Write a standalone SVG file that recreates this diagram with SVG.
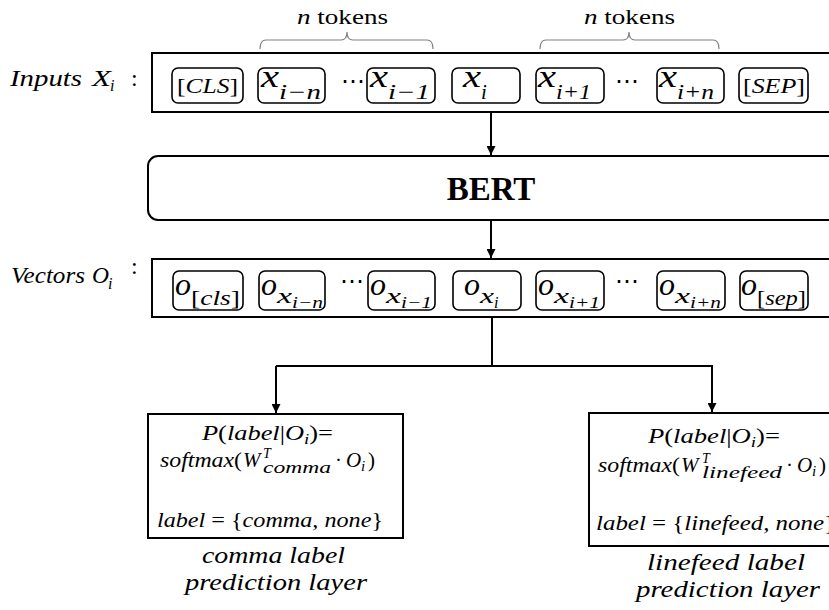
<svg xmlns="http://www.w3.org/2000/svg" width="829" height="610" viewBox="0 0 829 610">
<defs>
<marker id="ah" viewBox="0 0 10 10" refX="10" refY="5" markerWidth="9" markerHeight="9" markerUnits="userSpaceOnUse" orient="auto">
<path d="M0,0 L10,5 L0,10 z" fill="#000"/>
</marker>
<style>
.outer{fill:#fff;stroke:#000;stroke-width:2}
.tok{fill:#fff;stroke:#000;stroke-width:1.6}
.m{font-family:"Liberation Serif",serif;font-style:italic;fill:#000}
.u{font-style:normal}
.c{stroke:#000;stroke-width:2;fill:none}
.br{stroke:#808080;stroke-width:1.2;fill:none}
.dots{font-family:"DejaVu Sans",sans-serif;font-size:24px;fill:#000}
</style>
</defs>
<rect width="829" height="610" fill="#fff"/>

<g id="braces">
<path class="br" d="M260,49 Q260,40 266,40 L341,40 Q347,40 347,32 Q347,40 353,40 L427,40 Q433,40 433,49"/>
<path class="br" d="M540,49 Q540,40 546,40 L623,40 Q629,40 629,32 Q629,40 635,40 L713,40 Q719,40 719,49"/>
<text class="m" x="297" y="24" font-size="22" textLength="91" lengthAdjust="spacingAndGlyphs">n<tspan class="u"> tokens</tspan></text>
<text class="m" x="584" y="24" font-size="22" textLength="91" lengthAdjust="spacingAndGlyphs">n<tspan class="u"> tokens</tspan></text>
</g>

<g id="inputs">
<text class="m" x="10" y="86" font-size="24" textLength="72" lengthAdjust="spacingAndGlyphs">Inputs</text>
<text class="m" x="92" y="86" font-size="24" textLength="19" lengthAdjust="spacingAndGlyphs">X</text>
<text class="m" x="110" y="91" font-size="16">i</text>
<text class="m u" x="131" y="86" font-size="24">:</text>
<rect class="outer" x="152" y="53" width="700" height="59"/>
<rect class="tok" x="172" y="68" width="71" height="35" rx="6"/>
<text class="m" x="177" y="93" font-size="21" textLength="61" lengthAdjust="spacingAndGlyphs"><tspan class="u">[</tspan>CLS<tspan class="u">]</tspan></text>
<rect class="tok" x="258" y="68" width="67" height="35" rx="6"/>
<text class="m" x="261" y="87" font-size="32" textLength="18" lengthAdjust="spacingAndGlyphs">x</text>
<text class="m" x="279" y="99" font-size="21" textLength="42" lengthAdjust="spacingAndGlyphs">i−n</text>
<text class="dots" x="353" y="89" text-anchor="middle">⋯</text>
<rect class="tok" x="367" y="68" width="68" height="35" rx="6"/>
<text class="m" x="370" y="87" font-size="32" textLength="18" lengthAdjust="spacingAndGlyphs">x</text>
<text class="m" x="388" y="99" font-size="21" textLength="42" lengthAdjust="spacingAndGlyphs">i−1</text>
<rect class="tok" x="452" y="68" width="68" height="35" rx="6"/>
<text class="m" x="463" y="87" font-size="32" textLength="18" lengthAdjust="spacingAndGlyphs">x</text>
<text class="m" x="481" y="99" font-size="21">i</text>
<rect class="tok" x="536" y="68" width="68" height="35" rx="6"/>
<text class="m" x="538" y="87" font-size="32" textLength="18" lengthAdjust="spacingAndGlyphs">x</text>
<text class="m" x="556" y="99" font-size="21" textLength="35" lengthAdjust="spacingAndGlyphs">i+1</text>
<text class="dots" x="627" y="89" text-anchor="middle">⋯</text>
<rect class="tok" x="657" y="68" width="67" height="35" rx="6"/>
<text class="m" x="659" y="87" font-size="32" textLength="18" lengthAdjust="spacingAndGlyphs">x</text>
<text class="m" x="677" y="99" font-size="21" textLength="37" lengthAdjust="spacingAndGlyphs">i+n</text>
<rect class="tok" x="739" y="68" width="69" height="35" rx="6"/>
<text class="m" x="743" y="93" font-size="21" textLength="62" lengthAdjust="spacingAndGlyphs"><tspan class="u">[</tspan>SEP<tspan class="u">]</tspan></text>
</g>

<g id="bert">
<rect class="outer" x="148" y="156" width="690" height="64" rx="10"/>
<text x="491" y="200" font-family="Liberation Serif, serif" font-weight="bold" font-size="33" text-anchor="middle">BERT</text>
</g>

<g id="vectors">
<text class="m" x="11" y="283" font-size="24" textLength="74" lengthAdjust="spacingAndGlyphs">Vectors</text>
<text class="m" x="92" y="283" font-size="24" textLength="17" lengthAdjust="spacingAndGlyphs">O</text>
<text class="m" x="108" y="289" font-size="16">i</text>
<text class="m u" x="131" y="274" font-size="24">:</text>
<rect class="outer" x="152" y="259" width="700" height="58"/>
<rect class="tok" x="173" y="271" width="70" height="39" rx="6"/>
<text class="m" x="175" y="295" font-size="31" textLength="16" lengthAdjust="spacingAndGlyphs">o</text>
<text class="m" x="191" y="305" font-size="20" textLength="49" lengthAdjust="spacingAndGlyphs"><tspan class="u">[</tspan>cls<tspan class="u">]</tspan></text>
<rect class="tok" x="259" y="271" width="66" height="39" rx="6"/>
<text class="m" x="261" y="295" font-size="31" textLength="16" lengthAdjust="spacingAndGlyphs">o</text>
<text class="m" x="277" y="303" font-size="22" textLength="15" lengthAdjust="spacingAndGlyphs">x</text>
<text class="m" x="292" y="308" font-size="16" textLength="31" lengthAdjust="spacingAndGlyphs">i−n</text>
<text class="dots" x="352" y="289" text-anchor="middle">⋯</text>
<rect class="tok" x="368" y="271" width="67" height="39" rx="6"/>
<text class="m" x="370" y="295" font-size="31" textLength="16" lengthAdjust="spacingAndGlyphs">o</text>
<text class="m" x="386" y="303" font-size="22" textLength="15" lengthAdjust="spacingAndGlyphs">x</text>
<text class="m" x="401" y="308" font-size="16" textLength="31" lengthAdjust="spacingAndGlyphs">i−1</text>
<rect class="tok" x="453" y="271" width="68" height="39" rx="6"/>
<text class="m" x="464" y="295" font-size="31" textLength="16" lengthAdjust="spacingAndGlyphs">o</text>
<text class="m" x="480" y="303" font-size="22" textLength="14" lengthAdjust="spacingAndGlyphs">x</text>
<text class="m" x="494" y="308" font-size="16">i</text>
<rect class="tok" x="536" y="271" width="68" height="39" rx="6"/>
<text class="m" x="538" y="295" font-size="31" textLength="16" lengthAdjust="spacingAndGlyphs">o</text>
<text class="m" x="554" y="303" font-size="22" textLength="15" lengthAdjust="spacingAndGlyphs">x</text>
<text class="m" x="569" y="308" font-size="16" textLength="31" lengthAdjust="spacingAndGlyphs">i+1</text>
<text class="dots" x="627" y="289" text-anchor="middle">⋯</text>
<rect class="tok" x="657" y="271" width="68" height="39" rx="6"/>
<text class="m" x="659" y="295" font-size="31" textLength="16" lengthAdjust="spacingAndGlyphs">o</text>
<text class="m" x="675" y="303" font-size="22" textLength="15" lengthAdjust="spacingAndGlyphs">x</text>
<text class="m" x="690" y="308" font-size="16" textLength="31" lengthAdjust="spacingAndGlyphs">i+n</text>
<rect class="tok" x="740" y="271" width="68" height="39" rx="6"/>
<text class="m" x="741" y="295" font-size="31" textLength="16" lengthAdjust="spacingAndGlyphs">o</text>
<text class="m" x="757" y="305" font-size="20" textLength="49" lengthAdjust="spacingAndGlyphs"><tspan class="u">[</tspan>sep<tspan class="u">]</tspan></text>
</g>

<g id="comma-layer">
<rect class="outer" x="148" y="414" width="255" height="124"/>
<text class="m" x="202" y="440" font-size="21" textLength="131" lengthAdjust="spacingAndGlyphs">P<tspan class="u">(</tspan>label<tspan class="u">|</tspan>O<tspan font-size="15" dy="4">i</tspan><tspan class="u" dy="-4">)=</tspan></text>
<text class="m" x="160" y="467" font-size="21" textLength="82" lengthAdjust="spacingAndGlyphs">softmax<tspan class="u">(</tspan></text>
<text class="m" x="243" y="467" font-size="21">W</text>
<text class="m" x="263" y="458" font-size="14">T</text>
<text class="m" x="263" y="473" font-size="16" textLength="68" lengthAdjust="spacingAndGlyphs">comma</text>
<text class="m u" x="335" y="467" font-size="21">·</text>
<text class="m" x="346" y="467" font-size="21">O</text>
<text class="m" x="361" y="471" font-size="15">i</text>
<text class="m u" x="368" y="467" font-size="21">)</text>
<text class="m" x="157" y="527" font-size="21" textLength="226" lengthAdjust="spacingAndGlyphs">label <tspan class="u">= {</tspan>comma, none<tspan class="u">}</tspan></text>
<text class="m" x="202" y="563" font-size="23" textLength="143" lengthAdjust="spacingAndGlyphs">comma label</text>
<text class="m" x="185" y="590" font-size="23" textLength="182" lengthAdjust="spacingAndGlyphs">prediction layer</text>
</g>

<g id="linefeed-layer">
<rect class="outer" x="589" y="413" width="260" height="133"/>
<text class="m" x="648" y="443" font-size="21" textLength="132" lengthAdjust="spacingAndGlyphs">P<tspan class="u">(</tspan>label<tspan class="u">|</tspan>O<tspan font-size="15" dy="4">i</tspan><tspan class="u" dy="-4">)=</tspan></text>
<text class="m" x="598" y="472" font-size="21" textLength="82" lengthAdjust="spacingAndGlyphs">softmax<tspan class="u">(</tspan></text>
<text class="m" x="681" y="472" font-size="21">W</text>
<text class="m" x="702" y="463" font-size="14">T</text>
<text class="m" x="702" y="478" font-size="16" textLength="80" lengthAdjust="spacingAndGlyphs">linefeed</text>
<text class="m u" x="786" y="472" font-size="21">·</text>
<text class="m" x="797" y="472" font-size="21">O</text>
<text class="m" x="812" y="476" font-size="15">i</text>
<text class="m u" x="819" y="472" font-size="21">)</text>
<text class="m" x="596" y="530" font-size="21" textLength="240" lengthAdjust="spacingAndGlyphs">label <tspan class="u">= {</tspan>linefeed, none<tspan class="u">}</tspan></text>
<text class="m" x="647" y="570" font-size="23" textLength="158" lengthAdjust="spacingAndGlyphs">linefeed label</text>
<text class="m" x="636" y="597" font-size="23" textLength="184" lengthAdjust="spacingAndGlyphs">prediction layer</text>
</g>

<g id="connectors">
<line class="c" x1="491" y1="112" x2="491" y2="155" marker-end="url(#ah)"/>
<line class="c" x1="491" y1="220" x2="491" y2="258" marker-end="url(#ah)"/>
<polyline class="c" points="492,317 492,366"/>
<polyline class="c" points="276,366 712,366 712,412" marker-end="url(#ah)"/>
<line class="c" x1="276" y1="366" x2="276" y2="413" marker-end="url(#ah)"/>
</g>
</svg>
